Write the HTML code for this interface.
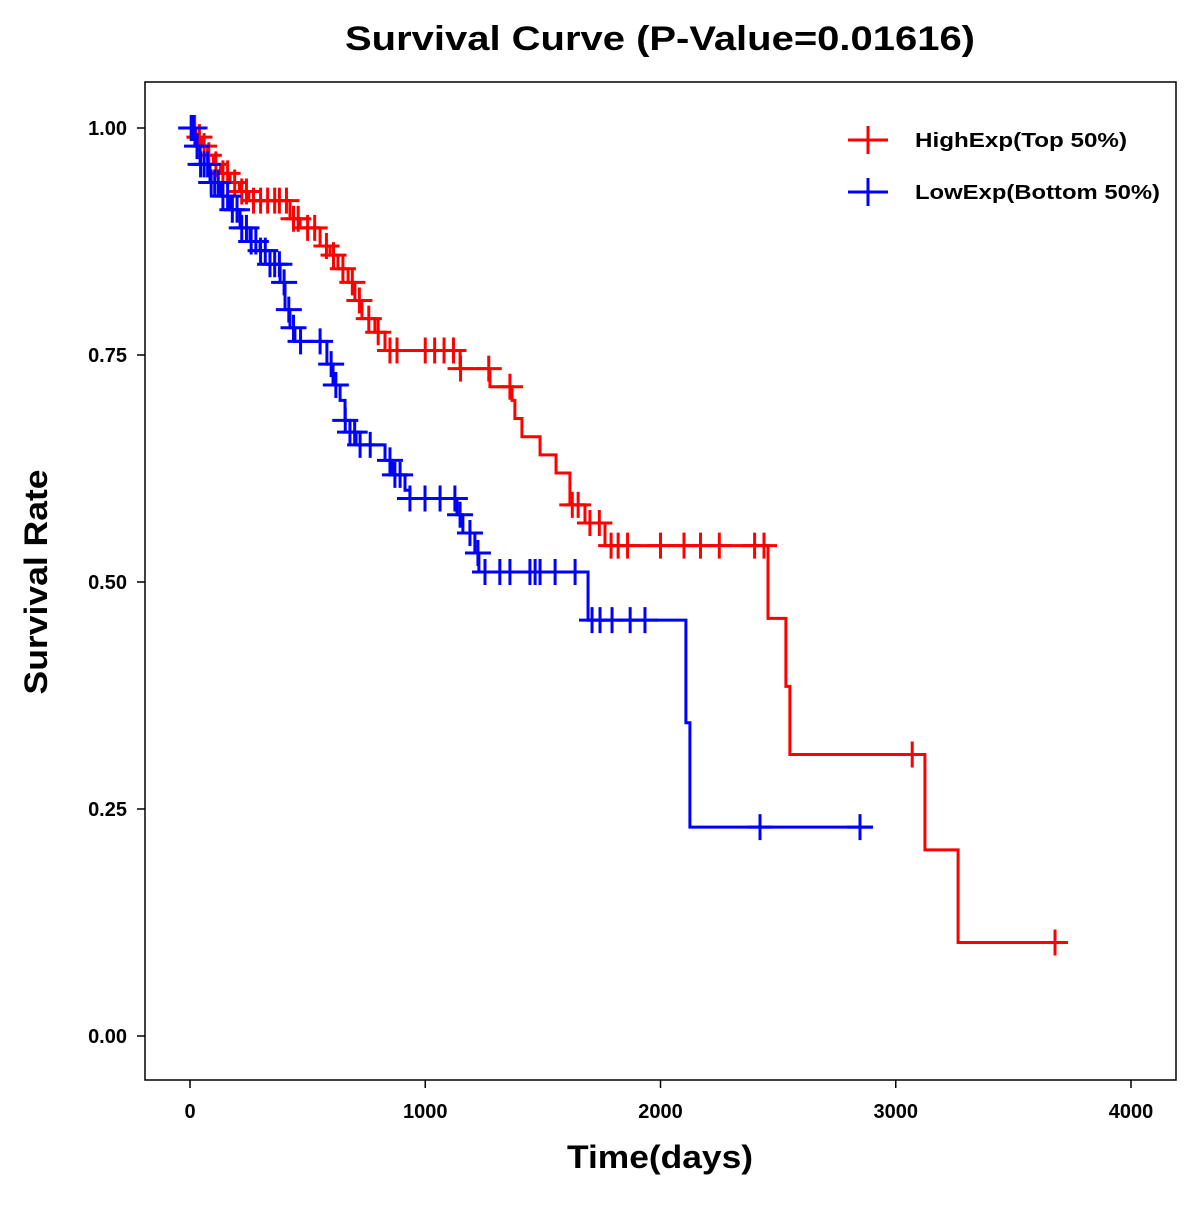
<!DOCTYPE html>
<html><head><meta charset="utf-8"><style>
body{margin:0;background:#fff}
svg text{font-family:"Liberation Sans",Arial,sans-serif;font-weight:bold}
</style></head><body>
<svg id="chart" width="1200" height="1200" xmlns="http://www.w3.org/2000/svg">
<rect width="1200" height="1200" fill="#fff"/>
<text x="660" y="50" text-anchor="middle" font-size="34" textLength="630" lengthAdjust="spacingAndGlyphs">Survival Curve (P-Value=0.01616)</text>
<rect x="145" y="82" width="1031" height="998" fill="none" stroke="#000" stroke-width="1.5"/>
<g id="axes"></g>
<g id="series"></g>
<text x="660" y="1168" text-anchor="middle" font-size="32" textLength="186" lengthAdjust="spacingAndGlyphs">Time(days)</text>
<text transform="translate(47,582) rotate(-90)" text-anchor="middle" font-size="32" textLength="225" lengthAdjust="spacingAndGlyphs">Survival Rate</text>
<g>
<g><line x1="848" y1="140" x2="888" y2="140" stroke="red" stroke-width="3"/><line x1="868" y1="126" x2="868" y2="154" stroke="red" stroke-width="3"/><text x="915" y="147" font-size="20" textLength="212" lengthAdjust="spacingAndGlyphs">HighExp(Top 50%)</text></g>
<g><line x1="848" y1="192" x2="888" y2="192" stroke="blue" stroke-width="3"/><line x1="868" y1="178" x2="868" y2="206" stroke="blue" stroke-width="3"/><text x="915" y="199" font-size="20" textLength="245" lengthAdjust="spacingAndGlyphs">LowExp(Bottom 50%)</text></g>
</g>
</svg>
<script>
const xTicks=[0,1000,2000,3000,4000];
const yTicks=[0,0.25,0.5,0.75,1.0];
const yTickLabels=["0.00","0.25","0.50","0.75","1.00"];
const highTimes=[0,25,50,75,100,130,170,210,250,425,468,553,595,629,672,701,731,786,829,1148,1275,1369,1381,1411,1488,1556,1615,1679,1764,2457,2533,2550,3124,3265];
const highSurv=[1,0.99,0.98,0.97,0.96,0.95,0.94,0.93,0.92,0.90,0.89,0.87,0.86,0.845,0.83,0.81,0.79,0.775,0.755,0.735,0.715,0.70,0.68,0.66,0.64,0.62,0.585,0.565,0.54,0.46,0.385,0.31,0.205,0.103];
const highEnd=3720;
const highCensor=[20,40,60,80,110,140,160,190,220,240,270,300,330,360,380,410,440,460,500,530,580,610,650,690,720,760,800,850,880,1000,1040,1080,1120,1150,1270,1360,1625,1650,1700,1740,1790,1820,1860,2000,2100,2170,2250,2400,2440,3070,3677];
const lowTimes=[0,21,43,85,128,170,213,255,298,340,383,404,425,446,582,608,638,659,680,706,829,859,914,935,1135,1160,1211,1228,1692,2108,2125];
const lowSurv=[1,0.98,0.96,0.94,0.925,0.91,0.89,0.875,0.865,0.85,0.83,0.80,0.78,0.765,0.74,0.717,0.70,0.678,0.665,0.651,0.634,0.618,0.601,0.592,0.574,0.554,0.532,0.511,0.458,0.345,0.23];
const lowEnd=2900;
const lowCensor=[5,15,30,45,60,75,90,105,120,140,160,180,200,220,240,260,280,300,320,340,360,380,400,420,440,470,553,600,620,660,680,700,723,766,850,871,893,935,999,1063,1126,1148,1190,1224,1254,1317,1360,1445,1467,1488,1552,1637,1709,1743,1794,1871,1934,2423,2848];
function X(t){return 190+t*0.23525}
function Y(s){return 1036-s*908}
const NS="http://www.w3.org/2000/svg";
function mk(tag,attrs,parent){const e=document.createElementNS(NS,tag);for(const k in attrs)e.setAttribute(k,attrs[k]);parent.appendChild(e);return e}
const axes=document.getElementById('axes');
xTicks.forEach(t=>{
  const l=mk('line',{x1:X(t),x2:X(t),y1:1080,y2:1088,stroke:'#000','stroke-width':1.5},axes);
  
  
  const tx=mk('text',{x:X(t),y:1118,'text-anchor':'middle','font-size':20},axes);tx.textContent=t;
  
  
});
yTicks.forEach((v,i)=>{
  const l=mk('line',{x1:137,x2:145,y1:Y(v),y2:Y(v),stroke:'#000','stroke-width':1.5},axes);
  
  
  const tx=mk('text',{x:127,y:Y(v)+7,'text-anchor':'end','font-size':20},axes);tx.textContent=yTickLabels[i];
  
  
});
const series=document.getElementById('series');
function survAt(times,surv,t){let s=surv[0];for(let i=0;i<times.length;i++){if(times[i]<=t)s=surv[i];}return s}
function draw(times,surv,end,cens,color,name){
  const g=mk('g',{},series);
  
  
  let d='M'+X(times[0])+','+Y(surv[0]);
  for(let i=1;i<times.length;i++){d+=' H'+X(times[i])+' V'+Y(surv[i]);}
  d+=' H'+X(end);
  const p=mk('path',{d:d,fill:'none',stroke:color,'stroke-width':3},g);
  
  
  cens.forEach(t=>{
    const x=X(t),y=Y(survAt(times,surv,t));
    const c=mk('path',{d:`M${x-13},${y}H${x+13}M${x},${y-13}V${y+13}`,stroke:color,'stroke-width':3},g);
    
    
  });
}
draw(highTimes,highSurv,highEnd,highCensor,'#ff0000','high-exp');
draw(lowTimes,lowSurv,lowEnd,lowCensor,'#0000ff','low-exp');
</script>
</body></html>
